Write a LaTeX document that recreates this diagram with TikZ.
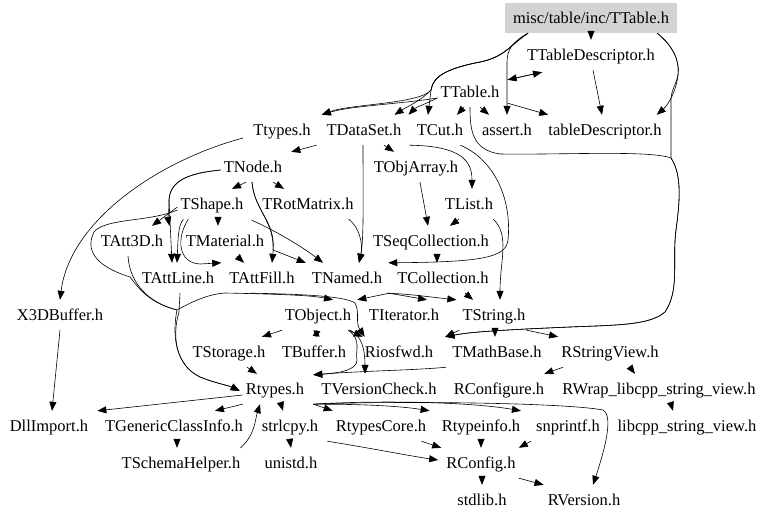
\documentclass[tikz,border=0pt]{standalone}
\usepackage{fontspec}
\setmainfont{Liberation Serif}
\usetikzlibrary{arrows.meta}
\definecolor{rootgray}{RGB}{211,211,211}
\tikzset{
  lbl/.style={inner xsep=3pt, inner ysep=9.5pt, text height=11pt, text depth=0pt, font=\fontsize{16.5}{18}\selectfont},
  rootbox/.style={lbl, fill=rootgray, inner xsep=8pt},
  e/.style={draw, line width=0.6pt, -{Triangle[length=9pt,width=7pt]}},
  es/.style={draw, line width=0.6pt, -{Triangle[length=6pt,width=7pt]}},
}
\begin{document}
\begin{tikzpicture}[x=1pt,y=-1pt]
\useasboundingbox (0,0) rectangle (768,522);
% nodes
\node[rootbox] (root) at (591,18) {misc/table/inc/TTable.h};
\node[lbl] (TTableDescriptor) at (591,55) {TTableDescriptor.h};
\node[lbl] (TTable) at (470,92) {TTable.h};
\node[lbl] (Ttypes) at (282,130) {Ttypes.h};
\node[lbl] (TDataSet) at (364,130) {TDataSet.h};
\node[lbl] (TCut) at (440,130) {TCut.h};
\node[lbl] (assert) at (507,130) {assert.h};
\node[lbl] (tableDescriptor) at (605,130) {tableDescriptor.h};
\node[lbl] (TNode) at (253,167) {TNode.h};
\node[lbl] (TObjArray) at (416,167) {TObjArray.h};
\node[lbl] (TShape) at (212,204) {TShape.h};
\node[lbl] (TRotMatrix) at (308,204) {TRotMatrix.h};
\node[lbl] (TList) at (469,204) {TList.h};
\node[lbl] (TAtt3D) at (132,241) {TAtt3D.h};
\node[lbl] (TMaterial) at (225,241) {TMaterial.h};
\node[lbl] (TSeqCollection) at (431,241) {TSeqCollection.h};
\node[lbl] (TAttLine) at (178,278) {TAttLine.h};
\node[lbl] (TAttFill) at (262,278) {TAttFill.h};
\node[lbl] (TNamed) at (347,278) {TNamed.h};
\node[lbl] (TCollection) at (443,278) {TCollection.h};
\node[lbl] (X3DBuffer) at (60,315) {X3DBuffer.h};
\node[lbl] (TObject) at (318,315) {TObject.h};
\node[lbl] (TIterator) at (404,315) {TIterator.h};
\node[lbl] (TString) at (494,315) {TString.h};
\node[lbl] (TStorage) at (229,352) {TStorage.h};
\node[lbl] (TBuffer) at (314,352) {TBuffer.h};
\node[lbl] (Riosfwd) at (399,352) {Riosfwd.h};
\node[lbl] (TMathBase) at (497,352) {TMathBase.h};
\node[lbl] (RStringView) at (610,352) {RStringView.h};
\node[lbl] (Rtypes) at (275,389) {Rtypes.h};
\node[lbl] (TVersionCheck) at (379,389) {TVersionCheck.h};
\node[lbl] (RConfigure) at (499,389) {RConfigure.h};
\node[lbl] (RWrap) at (659,389) {RWrap\_libcpp\_string\_view.h};
\node[lbl] (DllImport) at (49,426) {DllImport.h};
\node[lbl] (TGenericClassInfo) at (174,426) {TGenericClassInfo.h};
\node[lbl] (strlcpy) at (290,426) {strlcpy.h};
\node[lbl] (RtypesCore) at (381,426) {RtypesCore.h};
\node[lbl] (Rtypeinfo) at (481,426) {Rtypeinfo.h};
\node[lbl] (snprintf) at (568,426) {snprintf.h};
\node[lbl] (libcpp) at (687,426) {libcpp\_string\_view.h};
\node[lbl] (TSchemaHelper) at (181,463) {TSchemaHelper.h};
\node[lbl] (unistd) at (291,463) {unistd.h};
\node[lbl] (RConfig) at (481,463) {RConfig.h};
\node[lbl] (stdlib) at (482,500) {stdlib.h};
\node[lbl] (RVersion) at (584,500) {RVersion.h};

% root edges
\draw[e] (root.south) -- (TTableDescriptor.north);
\draw[e] ([xshift=-63pt]root.south) .. controls (512,42) and (507,50) .. (507,62) -- (assert.north);
\draw[e] ([xshift=-63pt]root.south) .. controls (510,45) and (505,57) .. (480,62) .. controls (450,68) and (433,75) .. (431,90) .. controls (420,104) and (350,104) .. ([xshift=8pt]Ttypes.north east);
\draw[e] ([xshift=-63pt]root.south) .. controls (510,45) and (505,57) .. (480,62) .. controls (450,68) and (433,75) .. (431,90) .. controls (422,100) and (405,108) .. ([xshift=-10pt]TDataSet.north east);
\draw[e] ([xshift=-63pt]root.south) .. controls (510,45) and (505,57) .. (480,62) .. controls (450,68) and (433,75) .. (431,90) -- ([xshift=-12pt]TCut.north);
\draw[e] ([xshift=-20pt]root.south east) .. controls (672,45) and (680,60) .. (678,75) .. controls (676,92) and (668,105) .. ([xshift=-8pt]tableDescriptor.north east);
\draw[e] ([xshift=-20pt]root.south east) .. controls (672,45) and (680,60) .. (678,75) .. controls (676,85) and (671,90) .. (671,100) -- (671,158) .. controls (682,175) and (680,200) .. (676,230) .. controls (672,260) and (680,290) .. (665,312) .. controls (650,325) and (620,325) .. (570,327) .. controls (500,330) and (470,332) .. ([xshift=9pt]Riosfwd.north east);

% TTable edges
\draw[e] ([yshift=-6pt]TTable.west) .. controls (400,104) and (350,106) .. ([xshift=8pt]Ttypes.north east);
\draw[e] ([yshift=-6pt]TTable.west) .. controls (425,104) and (415,108) .. ([xshift=4pt]TDataSet.north east);
\draw[e] ([xshift=-6pt]TTable.south) -- ([xshift=17pt]TCut.north);
\draw[e] ([xshift=10pt]TTable.south) -- ([xshift=-18pt]assert.north);
\draw[e] ([xshift=5pt,yshift=4pt]TTable.south east) -- ([xshift=3pt]tableDescriptor.north west);
\draw[e] ([xshift=5pt,yshift=-3pt]TTable.north east) -- ([xshift=18pt,yshift=-2pt]TTableDescriptor.south west);
\draw[e] ([xshift=18pt,yshift=-2pt]TTableDescriptor.south west) -- ([xshift=5pt,yshift=-3pt]TTable.north east);
\draw[e] (TTable.south) .. controls (470,130) and (472,150) .. (500,154) .. controls (560,155) and (650,150) .. (671,158) .. controls (682,175) and (680,200) .. (676,230) .. controls (672,260) and (680,290) .. (665,312) .. controls (650,325) and (620,325) .. (570,327) .. controls (500,330) and (470,332) .. ([xshift=9pt]Riosfwd.north east);
\draw[e] ([xshift=2pt]TTableDescriptor.south) -- ([xshift=-3pt]tableDescriptor.north);

% TDataSet / TCut
\draw[e] ([xshift=-7pt]TDataSet.south west) -- ([xshift=6pt]TNode.north east);
\draw[e] ([xshift=20pt]TDataSet.south) -- ([xshift=-22pt]TObjArray.north);
\draw[e] ([xshift=-1pt]TDataSet.south) .. controls (363,190) and (364,240) .. ([xshift=12pt]TNamed.north);
\draw[e] ([xshift=5pt]TDataSet.south east) .. controls (460,146) and (472,160) .. ([xshift=3pt]TList.north);
\draw[e] ([xshift=-6pt]TCut.south east) .. controls (495,160) and (512,200) .. (508,240) .. controls (506,258) and (480,262) .. ([xshift=3pt]TNamed.north east);
\draw[e] ([xshift=4pt]TObjArray.south) -- ([xshift=-3pt]TSeqCollection.north);
\draw[e] ([xshift=-10pt]TList.south) -- ([xshift=19pt]TSeqCollection.north);
\draw[e] ([xshift=-3pt]TList.south east) .. controls (510,235) and (500,260) .. ([xshift=6pt]TString.north);
\draw[e] ([xshift=6pt]TSeqCollection.south) -- ([xshift=-6pt]TCollection.north);

% TNode / TShape
\draw[e] ([xshift=-7pt]TNode.south) -- ([xshift=20pt]TShape.north);
\draw[e] ([xshift=20pt]TNode.south) -- ([xshift=-24pt]TRotMatrix.north);
\draw[e] ([yshift=-3pt]TNode.west) .. controls (190,173) and (170,180) .. (169,200) -- ([xshift=-6pt]TAttLine.north);
\draw[e] ([yshift=-3pt]TNode.west) .. controls (190,173) and (170,180) .. (169,200) .. controls (169,212) and (168,218) .. ([xshift=3pt]TAtt3D.north east);
\draw[e] ([xshift=6pt]TShape.south west) .. controls (178,225) and (178,240) .. ([xshift=-1pt]TAttLine.north);
\draw[e] ([yshift=-3pt]TShape.west) -- ([xshift=20pt]TAtt3D.north);
\draw[e] ([xshift=6pt]TShape.south) -- ([xshift=-7pt]TMaterial.north);
\draw[e] ([xshift=11pt]TShape.south west) .. controls (176,238) and (178,263) .. (200,264) -- ([xshift=-5pt]TAttFill.north west);
\draw[e] ([xshift=12pt]TMaterial.south) -- ([xshift=-18pt]TAttFill.north);
\draw[e] ([xshift=-1pt]TNode.south) .. controls (254,210) and (276,222) .. ([xshift=10pt]TAttFill.north);
\draw[e] ([xshift=-1pt]TNode.south) .. controls (254,210) and (276,222) .. (273,250) -- ([xshift=-3pt]TNamed.north west);
\draw[e] ([xshift=5pt,yshift=-1pt]TShape.south east) .. controls (270,228) and (300,245) .. ([xshift=-24pt]TNamed.north);
\draw[e] ([xshift=-8pt]TRotMatrix.south east) .. controls (360,228) and (363,245) .. ([xshift=12pt]TNamed.north);
\draw[e] ([xshift=-7pt,yshift=-8pt]Ttypes.west) .. controls (160,160) and (70,220) .. (X3DBuffer.north);

% left routes
\draw[e] ([yshift=-6pt]TShape.west) .. controls (150,222) and (105,218) .. (94,232) .. controls (86,248) and (92,265) .. (130,277) .. controls (140,290) and (150,303) .. (177,310) .. controls (172,335) and (175,365) .. (200,377) .. controls (215,383) and (230,386) .. ([xshift=-3pt,yshift=-2pt]Rtypes.west);
\draw[e] ([xshift=-4pt]TAtt3D.south) .. controls (130,285) and (150,303) .. (177,310) .. controls (195,300) and (210,294) .. (225,293) .. controls (270,294) and (310,295) .. ([xshift=15pt]TObject.north);
\draw[e] ([xshift=2pt]TAttLine.south) -- (179,312) .. controls (172,335) and (175,365) .. (200,377) .. controls (215,383) and (230,386) .. ([xshift=-3pt,yshift=-2pt]Rtypes.west);
\draw[e] ([xshift=-12pt]TAttFill.south) .. controls (300,294) and (345,296) .. (355,303) .. controls (360,312) and (355,322) .. ([xshift=3pt]Riosfwd.north west);

% TNamed / TCollection
\draw[e] ([xshift=-5pt]TCollection.south west) -- ([xshift=3pt]TObject.north east);
\draw[e] ([xshift=-5pt]TCollection.south west) -- ([xshift=23pt]TIterator.north);
\draw[e] ([xshift=2pt]TNamed.south east) .. controls (410,294) and (430,297) .. ([xshift=-3pt]TString.north west);
\draw[e] ([xshift=22pt]TCollection.south) -- ([xshift=-21pt]TString.north);

% TObject
\draw[e] ([xshift=-36pt]TObject.south) -- ([xshift=33pt]TStorage.north);
\draw[es] ([xshift=-1pt]TObject.south) -- ([xshift=2pt]TBuffer.north);
\draw[es] ([xshift=2pt]TBuffer.north) -- ([xshift=-1pt]TObject.south);
\draw[e] ([xshift=-6pt]TObject.south east) -- ([xshift=1pt]Riosfwd.north west);
\draw[e] ([xshift=-6pt]TObject.south east) .. controls (362,340) and (355,350) .. (357,360) .. controls (357,370) and (340,373) .. ([xshift=6pt,yshift=-1pt]Rtypes.north east);
\draw[e] ([xshift=-4pt]TObject.south east) .. controls (362,336) and (365,350) .. ([xshift=-14pt]TVersionCheck.north);
\draw[e] ([xshift=-3pt]TMathBase.south west) .. controls (420,370) and (360,371) .. ([xshift=6pt,yshift=-1pt]Rtypes.north east);
\draw[e] ([xshift=18pt]TStorage.south) -- ([xshift=-18pt]Rtypes.north);

% TString
\draw[e] (TString.south west) -- ([xshift=9pt]Riosfwd.north east);
\draw[e] ([xshift=1pt]TString.south) -- ([xshift=-2pt]TMathBase.north);
\draw[e] ([xshift=-2pt]TString.south east) -- (RStringView.north west);
\draw[e] ([xshift=5pt]RStringView.south west) -- ([xshift=-3pt]RConfigure.north east);
\draw[e] ([xshift=20pt]RStringView.south) -- ([xshift=-24pt]RWrap.north);
\draw[e] ([xshift=12pt]RWrap.south) -- ([xshift=-14pt]libcpp.north);

% bottom
\draw[e] (X3DBuffer.south) -- ([xshift=3pt]DllImport.north);
\draw[e] ([yshift=-6pt]Rtypes.west) -- ([xshift=6pt]DllImport.north east);
\draw[e] (Rtypes.south west) -- ([xshift=41pt]TGenericClassInfo.north);
\draw[e] ([xshift=6pt]Rtypes.south) -- ([xshift=-7pt]strlcpy.north);
\draw[e] ([xshift=-3pt]TSchemaHelper.north east) .. controls (255,435) and (255,420) .. ([xshift=-15pt]Rtypes.south);
\draw[e] ([xshift=6pt]Rtypes.south east) -- (RtypesCore.north west);
\draw[e] ([xshift=6pt]Rtypes.south east) .. controls (360,404) and (400,406) .. ([xshift=-9pt]Rtypeinfo.north west);
\draw[e] ([xshift=6pt]Rtypes.south east) .. controls (380,400) and (470,402) .. ([xshift=-12pt]snprintf.north west);
\draw[e] ([xshift=6pt]Rtypes.south east) .. controls (380,401) and (560,402) .. (603,410) .. controls (612,415) and (608,440) .. ([xshift=9pt]RVersion.north);
\draw[e] ([xshift=3pt]TGenericClassInfo.south) -- ([xshift=-4pt]TSchemaHelper.north);
\draw[e] (strlcpy.south) -- (unistd.north);
\draw[e] ([xshift=6pt]strlcpy.south east) .. controls (370,448) and (410,456) .. ([xshift=-5pt,yshift=3pt]RConfig.west);
\draw[e] ([xshift=-8pt]RtypesCore.south east) -- ([xshift=-2pt]RConfig.north west);
\draw[e] (Rtypeinfo.south) -- (RConfig.north);
\draw[e] ([xshift=-2pt]snprintf.south west) -- (RConfig.north east);
\draw[e] ([xshift=1pt]RConfig.south) -- (stdlib.north);
\draw[e] (RConfig.south east) -- ([xshift=-1pt]RVersion.north west);
\end{tikzpicture}
\end{document}
